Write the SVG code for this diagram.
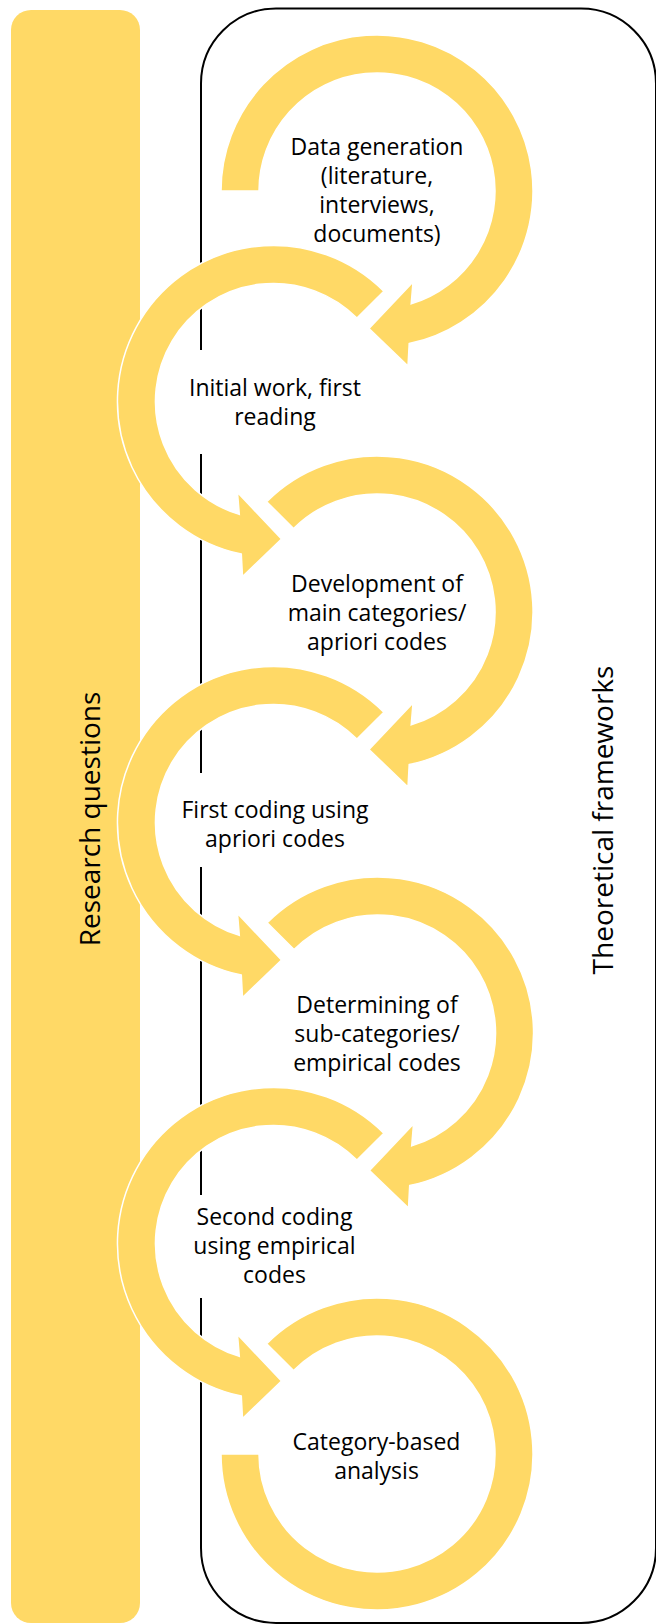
<svg xmlns="http://www.w3.org/2000/svg" xmlns:xlink="http://www.w3.org/1999/xlink" width="656" height="1624" viewBox="0 0 656 1624">
<style>
.arc{fill:#FFD966;stroke:#FFFFFF;stroke-width:1.5;stroke-linejoin:miter}
.bar{fill:#FFD966}
.frame{fill:none;stroke:#000000;stroke-width:2}
.box{fill:#FFFFFF}
.lbl{font-family:"Open Sans","Liberation Sans",sans-serif;font-size:23px;fill:#000000;text-anchor:middle}
.side{font-family:"Open Sans","Liberation Sans",sans-serif;font-size:28px;fill:#000000;text-anchor:middle}
</style>
<defs>
<path id="arrowFirst" d="M -156 0 A 156 156 0 1 1 32.2 152.6 L 31 175 L -8 137.5 L 36 91 L 34.2 112.9 A 118 118 0 1 0 -118 0 Z"/>
<path id="arrowCW" d="M -110.31 -110.31 A 156 156 0 1 1 32.2 152.6 L 31 175 L -8 137.5 L 36 91 L 34.2 112.9 A 118 118 0 1 0 -83.44 -83.44 Z"/>
<path id="arrowCCW" d="M 110.31 -110.31 A 156 156 0 1 0 -32.2 152.6 L -31 175 L 8 137.5 L -36 91 L -34.2 112.9 A 118 118 0 1 1 83.44 -83.44 Z"/>
<path id="arcEnd" d="M -110.31 -110.31 A 156 156 0 1 1 -156 0 L -118 0 A 118 118 0 1 0 -83.44 -83.44 Z"/>
</defs>
<rect x="0" y="0" width="656" height="1624" fill="#FFFFFF"/>

<g id="theoretical-frameworks">
<rect class="frame" x="201" y="8.5" width="455" height="1614.5" rx="75" ry="75"/>
<text class="side" transform="translate(613,820) rotate(-90)">Theoretical frameworks</text>
</g>

<g id="research-questions">
<rect class="bar" x="11" y="10" width="129" height="1613" rx="20" ry="20"/>
<text class="side" transform="translate(100,819) rotate(-90)">Research questions</text>
</g>

<g id="step1-data-generation">
<use xlink:href="#arrowFirst" class="arc" transform="translate(377,191)"/>
<text class="lbl" x="377" y="155">Data generation</text>
<text class="lbl" x="377" y="184">(literature,</text>
<text class="lbl" x="377" y="213">interviews,</text>
<text class="lbl" x="377" y="242">documents)</text>
</g>

<g id="step2-initial-work">
<rect class="box" x="182" y="350" width="186" height="104"/>
<use xlink:href="#arrowCCW" class="arc" transform="translate(273.5,401.5)"/>
<text class="lbl" x="275" y="396">Initial work, first</text>
<text class="lbl" x="275" y="425">reading</text>
</g>

<g id="step3-main-categories">
<use xlink:href="#arrowCW" class="arc" transform="translate(377,612)"/>
<text class="lbl" x="377" y="591.5">Development of</text>
<text class="lbl" x="377" y="620.5">main categories/</text>
<text class="lbl" x="377" y="649.5">apriori codes</text>
</g>

<g id="step4-first-coding">
<rect class="box" x="182" y="773" width="186" height="94"/>
<use xlink:href="#arrowCCW" class="arc" transform="translate(273.5,822.5)"/>
<text class="lbl" x="275" y="818">First coding using</text>
<text class="lbl" x="275" y="847">apriori codes</text>
</g>

<g id="step5-sub-categories">
<use xlink:href="#arrowCW" class="arc" transform="translate(377.5,1033)"/>
<text class="lbl" x="377" y="1013">Determining of</text>
<text class="lbl" x="377" y="1042">sub-categories/</text>
<text class="lbl" x="377" y="1071">empirical codes</text>
</g>

<g id="step6-second-coding">
<rect class="box" x="182" y="1195" width="186" height="103"/>
<use xlink:href="#arrowCCW" class="arc" transform="translate(273.5,1243.5)"/>
<text class="lbl" x="274.5" y="1225">Second coding</text>
<text class="lbl" x="274.5" y="1254">using empirical</text>
<text class="lbl" x="274.5" y="1283">codes</text>
</g>

<g id="step7-analysis">
<use xlink:href="#arcEnd" class="arc" transform="translate(377,1454)"/>
<text class="lbl" x="376.5" y="1450">Category-based</text>
<text class="lbl" x="376.5" y="1479">analysis</text>
</g>
</svg>
